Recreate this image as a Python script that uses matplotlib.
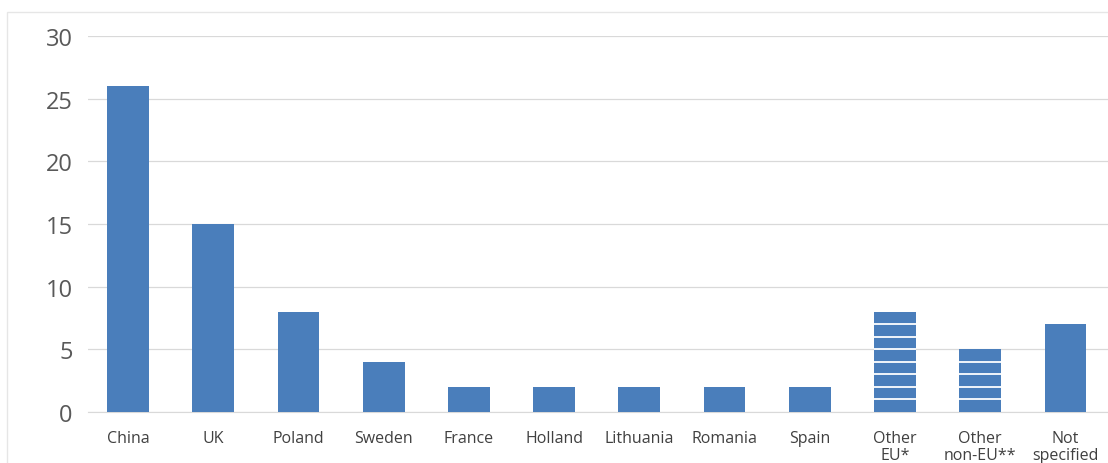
import matplotlib

matplotlib.use("Agg")
import matplotlib.pyplot as plt
from matplotlib.patches import Rectangle

categories = ["China", "UK", "Poland", "Sweden", "France", "Holland", "Lithuania",
              "Romania", "Spain", "Other\nEU*", "Other\nnon-EU**", "Not\nspecified"]
values = [26, 15, 8, 4, 2, 2, 2, 2, 2, 8, 5, 7]
# grouped categories are made of single-unit entries, drawn as stacked blocks
stacked = [False] * 9 + [True, True, False]
y_ticks = [0, 5, 10, 15, 20, 25, 30]

BAR_COLOR = "#4a7ebb"
GRID_COLOR = "#d9d9d9"
BAR_WIDTH = 0.49

plt.rcParams["font.family"] = ["Open Sans", "DejaVu Sans"]

fig = plt.figure(figsize=(11.08, 4.64), dpi=100)
fig.patch.set_facecolor("white")
fig.add_artist(Rectangle((7 / 1108, -0.1), 1.2, 1 - 13 / 464 + 0.1,
                         transform=fig.transFigure, fill=False,
                         edgecolor="#e6e6e6", linewidth=1))

ax = fig.add_axes([88 / 1108, 1 - 413 / 464, 1 - 88 / 1108, (413 - 37) / 464])
x = list(range(len(categories)))
for xi, v, st in zip(x, values, stacked):
    ax.bar(xi, v, width=BAR_WIDTH, color=BAR_COLOR, zorder=3)
    if st:
        # white separators between the single-unit entries
        ax.hlines(list(range(1, v)), xi - BAR_WIDTH / 2, xi + BAR_WIDTH / 2,
                  color="white", linewidth=1.3, zorder=4)

ax.set_xlim(-0.47, 11.5)
ax.set_ylim(0, 30)
ax.set_yticks(y_ticks)
ax.set_yticklabels([str(t) for t in y_ticks], fontsize=17, color="#595959")
ax.set_xticks(x)
ax.set_xticklabels(categories, fontsize=11.5, color="#404040", linespacing=1.05,
                   va="top")
ax.tick_params(axis="both", length=0)
ax.tick_params(axis="y", pad=11)
ax.tick_params(axis="x", pad=13)
ax.grid(axis="y", color=GRID_COLOR, linewidth=0.9, zorder=0)
for side in ["top", "right", "left"]:
    ax.spines[side].set_visible(False)
ax.spines["bottom"].set_color(GRID_COLOR)

fig.savefig("out.png", dpi=100, facecolor="white")
